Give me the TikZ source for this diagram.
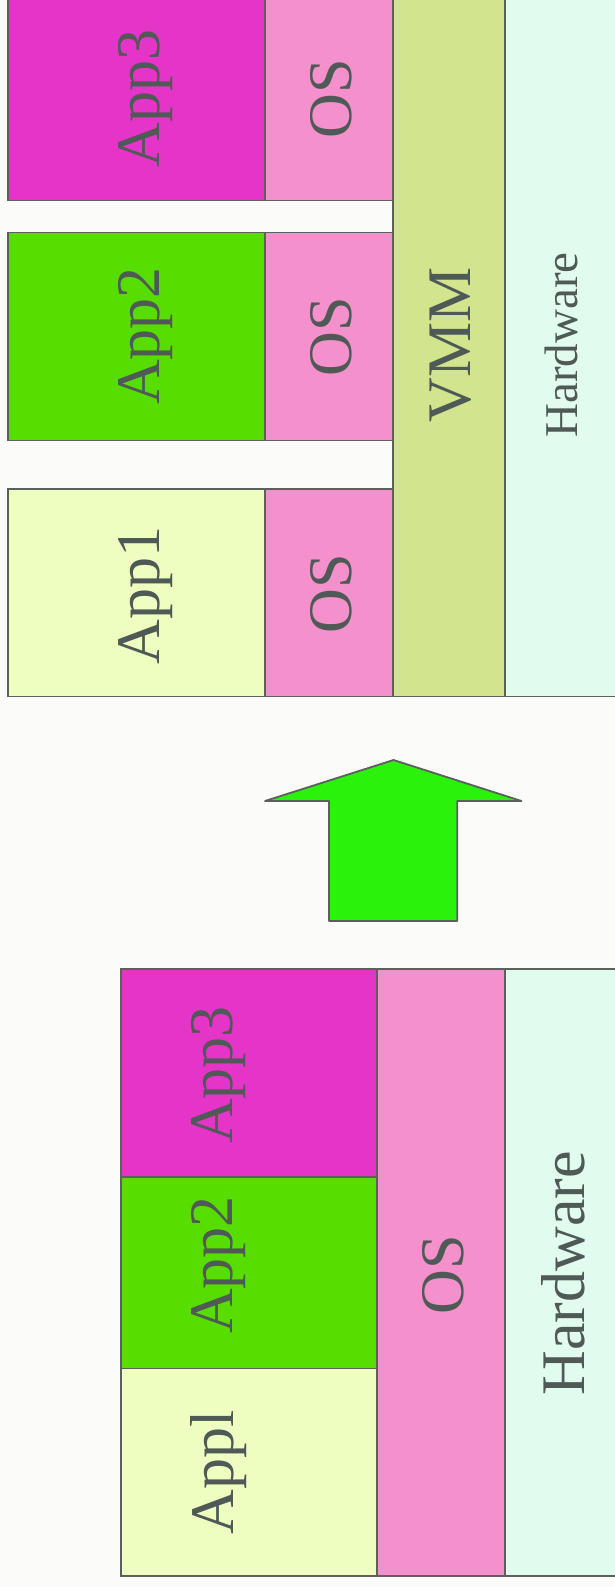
\documentclass[tikz,border=0pt]{standalone}
\usepackage{fontspec}
\setmainfont{Liberation Serif}
\definecolor{bgcol}{HTML}{FBFBF9}
\definecolor{edgecol}{HTML}{5B605D}
\definecolor{inkcol}{HTML}{4F5955}
\definecolor{appA}{HTML}{EEFDC0}
\definecolor{appB}{HTML}{58DD00}
\definecolor{appC}{HTML}{E535C9}
\definecolor{oscol}{HTML}{F490CB}
\definecolor{vmmcol}{HTML}{D3E48F}
\definecolor{hwcol}{HTML}{E1FCEE}
\definecolor{arrowcol}{HTML}{2AF20A}
\tikzset{
  layer/.style={draw=edgecol, line width=1.8pt},
  lbl/.style={text=inkcol, rotate=90, inner sep=0pt, font=\fontsize{62}{62}\selectfont},
  lblsmall/.style={lbl, font=\fontsize{47}{47}\selectfont},
}
\begin{document}
\begin{tikzpicture}[x=1pt, y=-1pt]
\useasboundingbox (0,0) rectangle (615,1587);
\fill[bgcol] (0,0) rectangle (615,1587);
\clip (0,0) rectangle (615,1587);

% virtualised stack (top)
\draw[layer, fill=appC]   (8.3,-5)     rectangle (265,200.5);
\draw[layer, fill=oscol]  (265,-5)     rectangle (393.3,200.5);
\draw[layer, fill=appB]   (8.3,232.5)  rectangle (265,440.5);
\draw[layer, fill=oscol]  (265,232.5)  rectangle (393.3,440.5);
\draw[layer, fill=appA]   (8.3,488.7)  rectangle (265,696.5);
\draw[layer, fill=oscol]  (265,488.7)  rectangle (393.3,696.5);
\draw[layer, fill=vmmcol] (393.3,-5)   rectangle (505,696.5);
\draw[layer, fill=hwcol]  (505,-5)     rectangle (640,696.5);

\node[lbl] (vapp3) at (145.5,98.5) {App3};
\node[lbl] (vos3)  at (331,98.5)   {OS};
\node[lbl] (vapp2) at (145.5,336)  {App2};
\node[lbl] (vos2)  at (331,337)    {OS};
\node[lbl] (vapp1) at (145.5,595.5) {App1};
\node[lbl] (vos1)  at (331,594)    {OS};
\node[lbl] (vmm)   at (451,345)    {VMM};
\node[lblsmall] (vhw) at (561.7,345) {Hardware};

% arrow between the two stacks
\draw[layer, fill=arrowcol, line join=round]
  (393.5,760) -- (521.5,801) -- (457.3,801) -- (457.3,921)
  -- (329,921) -- (329,801) -- (265,801) -- cycle;

% plain stack (bottom)
\draw[layer, fill=appC]  (121,969)    rectangle (377,1177);
\draw[layer, fill=appB]  (121,1177)   rectangle (377,1368.5);
\draw[layer, fill=appA]  (121,1368.5) rectangle (377,1576.3);
\draw[layer, fill=oscol] (377,969)    rectangle (505.3,1576.3);
\draw[layer, fill=hwcol] (505.3,969)  rectangle (640,1576.3);

\node[lbl] (papp3) at (219,1075)   {App3};
\node[lbl] (papp2) at (219,1265)   {App2};
\node[lbl] (papp1) at (219,1472.5) {Appl};
\node[lbl] (pos)   at (443.3,1274.5) {OS};
\node[lbl] (phw)   at (563,1273.3) {Hardware};
\end{tikzpicture}
\end{document}
